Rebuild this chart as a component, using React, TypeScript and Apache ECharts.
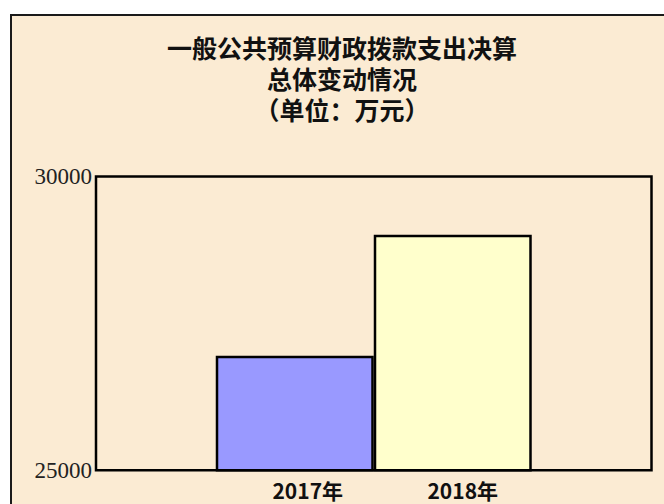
import React, { useEffect, useRef } from "react";
import * as echarts from "echarts";

const titleLines = ["一般公共预算财政拨款支出决算", "总体变动情况", "（单位：万元）"];
const seriesNames = ["2017年", "2018年"];
const seriesValues = [26950, 29010];
const seriesColors = ["#9999FF", "#FFFFCC"];
const yMin = 25000;
const yMax = 30000;
const yInterval = 5000;

export default function App() {
  const ref = useRef<HTMLDivElement>(null);
  useEffect(() => {
    if (!ref.current) return;
    const chart = echarts.init(ref.current, null, { renderer: "svg" });
    chart.setOption({
      animation: false,
      backgroundColor: "#ffffff",
      graphic: [
        {
          type: "rect",
          z: -10,
          shape: { x: 11, y: 15, width: 700, height: 600 },
          style: { fill: "#FBEBD3", stroke: "#1a1a1a", lineWidth: 2 },
        },
      ],
      title: titleLines.map((t, i) => ({
        text: t,
        left: 342,
        top: 34 + i * 31,
        textAlign: "center",
        padding: 0,
        textStyle: {
          fontFamily: "Noto Sans CJK SC",
          fontWeight: "bold",
          fontSize: 25,
          lineHeight: 25,
          color: "#111",
        },
      })),
      grid: {
        left: 96,
        right: 12.5,
        top: 176.5,
        bottom: 33.8,
        show: true,
        borderColor: "#000",
        borderWidth: 2.5,
        backgroundColor: "transparent",
      },
      xAxis: {
        type: "category",
        data: [""],
        axisLine: { show: false },
        axisTick: { show: false },
        axisLabel: { show: false },
      },
      yAxis: {
        type: "value",
        min: yMin,
        max: yMax,
        interval: yInterval,
        axisLine: { show: false },
        axisTick: { show: false },
        splitLine: { show: false },
        axisLabel: {
          margin: 4,
          formatter: (v: number) => String(v),
          fontFamily: "Liberation Serif",
          fontSize: 23,
          color: "#222",
        },
      },
      series: seriesNames.map((name, i) => ({
        name,
        type: "bar",
        data: [seriesValues[i]],
        barWidth: 158,
        barGap: "0%",
        itemStyle: { color: seriesColors[i], borderColor: "#000", borderWidth: 2.5 },
        label: {
          show: true,
          position: "bottom",
          distance: 8,
          offset: [i === 0 ? 13 : 10, 0],
          formatter: "{a}",
          fontFamily: "Noto Sans CJK SC",
          fontWeight: "bold",
          fontSize: 21,
          lineHeight: 21,
          color: "#111",
        },
      })),
    });
    return () => chart.dispose();
  }, []);
  return (
    <div
      ref={ref}
      style={{ position: "fixed", left: 0, top: 0, width: 664, height: 504 }}
    />
  );
}
